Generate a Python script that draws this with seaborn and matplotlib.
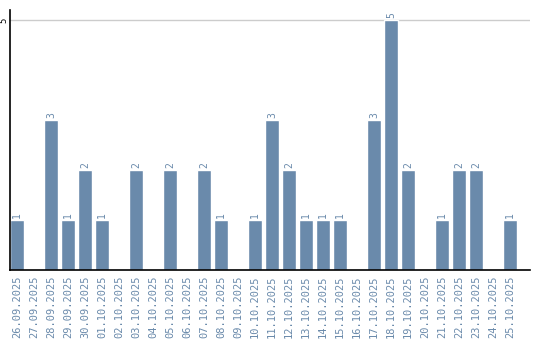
import matplotlib
matplotlib.use("Agg")
import matplotlib.pyplot as plt
import seaborn as sns
import pandas as pd

dates = ["26.09.2025", "27.09.2025", "28.09.2025", "29.09.2025", "30.09.2025",
         "01.10.2025", "02.10.2025", "03.10.2025", "04.10.2025", "05.10.2025",
         "06.10.2025", "07.10.2025", "08.10.2025", "09.10.2025", "10.10.2025",
         "11.10.2025", "12.10.2025", "13.10.2025", "14.10.2025", "15.10.2025",
         "16.10.2025", "17.10.2025", "18.10.2025", "19.10.2025", "20.10.2025",
         "21.10.2025", "22.10.2025", "23.10.2025", "24.10.2025", "25.10.2025"]
counts = [1, 0, 3, 1, 2, 1, 0, 2, 0, 2, 0, 2, 1, 0, 1,
          3, 2, 1, 1, 1, 0, 3, 5, 2, 0, 1, 2, 2, 0, 1]
y_ticks = [5]

df = pd.DataFrame({"date": dates, "count": counts})

sns.set_style("white")
plt.rcParams["font.family"] = ["DejaVu Sans Mono", "DejaVu Sans"]

bar_color = "#6a8aab"
label_color = "#6a8aab"

fig = plt.figure(figsize=(5.4, 3.4), dpi=100)
ax = fig.add_axes([10 / 540, 70 / 340, 520 / 540, 260 / 340])
sns.barplot(data=df, x="date", y="count", color=bar_color, width=0.82,
            saturation=1, ax=ax, zorder=3)

ax.set_xlim(-0.41, 30.17)
ax.set_ylim(0, 5.2)
ax.set_yticks(y_ticks)
ax.set_yticklabels([str(t) for t in y_ticks], rotation=90, fontsize=6.5,
                   color="black", va="center", ha="right")
ax.tick_params(axis="y", length=0, pad=1.5)
ax.tick_params(axis="x", length=0, pad=4)
ax.set_xticks(range(len(dates)))
ax.set_xticklabels(dates, rotation=90, fontsize=7.5, color=label_color)
ax.yaxis.grid(True, color="#cccccc", linewidth=1, zorder=0)
ax.xaxis.grid(False)
ax.set_xlabel("")
ax.set_ylabel("")

for s in ["top", "right"]:
    ax.spines[s].set_visible(False)
for s in ["left", "bottom"]:
    ax.spines[s].set_visible(True)
    ax.spines[s].set_color("black")
    ax.spines[s].set_linewidth(1.2)
    ax.spines[s].set_zorder(4)

for i, c in enumerate(counts):
    if c > 0:
        ax.text(i, c + 0.05, str(c), rotation=90, ha="center", va="bottom",
                fontsize=7, color=label_color)

fig.savefig("out.png", dpi=100)
